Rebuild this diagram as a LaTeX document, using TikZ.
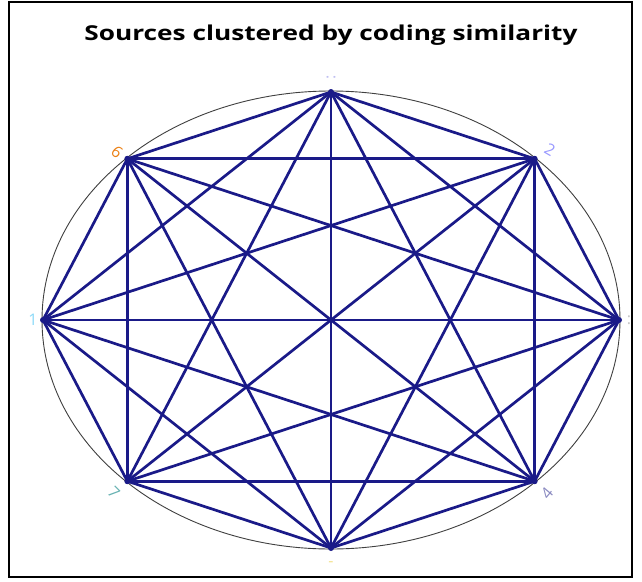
\documentclass[tikz,border=0pt]{standalone}
\usepackage{fontspec}
\setmainfont{Open Sans}
\begin{document}
\begin{tikzpicture}[x=1pt,y=-1pt,
  frame/.style={draw=black,line width=1.2pt},
  rim/.style={draw=black!75,line width=0.9pt},
  link/.style={draw=edgeblue,line width=2.7pt,line cap=round},
  vtx/.style={circle,fill=edgeblue,inner sep=0pt,minimum size=6pt},
  tag/.style={font=\fontsize{16}{16}\selectfont,inner sep=0pt}]
\definecolor{edgeblue}{RGB}{26,26,136}
\useasboundingbox (0,0) rectangle (642,581);
\fill[white] (0,0) rectangle (642,581);
\draw[frame] (9,2) rectangle (632,577);
\node[font=\bfseries\fontsize{20.5}{20.5}\selectfont,xscale=1.28] (title) at (331,35) {Sources clustered by coding similarity};
% ring through the eight sources
\draw[rim] (331,320) ellipse [x radius=289, y radius=229];
\foreach \i/\a in {1/90,2/45,3/0,4/-45,5/-90,6/-135,7/180,8/135}{
  \node[vtx] (v\i) at ({331+288*cos(\a)},{320-228*sin(\a)}) {};
}
% every pair of sources is linked
\foreach \i in {1,...,8}{
  \foreach \j in {1,...,8}{
    \ifnum\i<\j \draw[link] (v\i.center) -- (v\j.center); \fi
  }
}
% source labels
\node[tag,text=black!20!blue!25,rotate=90] (l1) at (331,77) {:};
\node[tag,text=blue!40!white,rotate=-30] (l2) at (550,150) {2};
\node[tag,text=black!22] (l3) at (629,320) {:};
\node[tag,text=blue!30!gray!70,rotate=50] (l4) at (547,493) {4};
\node[tag,text=yellow!60!brown!50] (l5) at (331,564) {-};
\node[tag,text=teal!60,rotate=-45] (l6) at (114,493) {7};
\node[tag,text=cyan!45] (l7) at (33,320) {1};
\node[tag,text=orange!70!brown,rotate=-40] (l8) at (117,152) {6};
\end{tikzpicture}
\end{document}
